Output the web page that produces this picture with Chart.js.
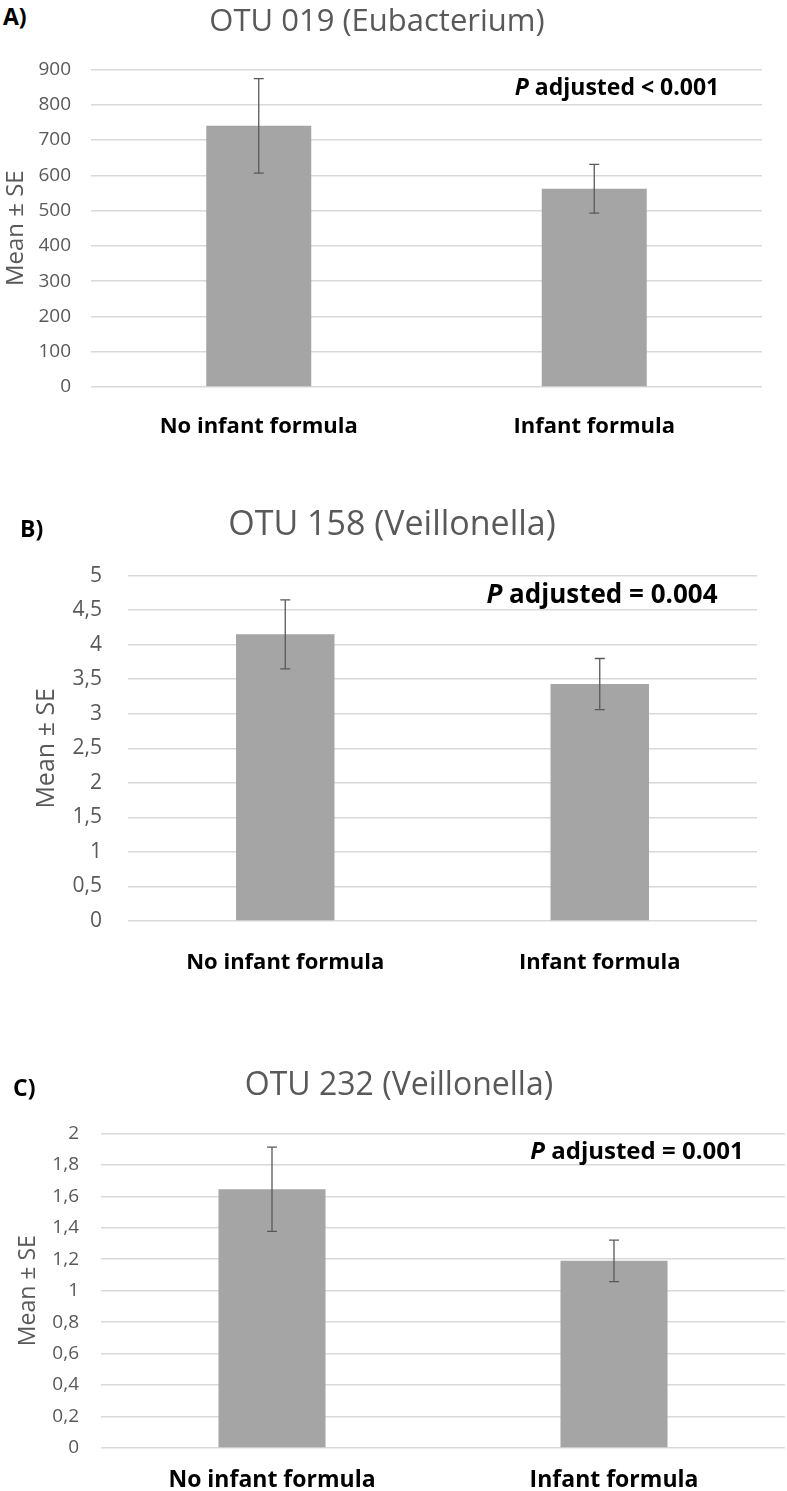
<!DOCTYPE html>
<html>
<head>
<meta charset="utf-8">
<script src="https://cdn.jsdelivr.net/npm/chart.js@4.4.1/dist/chart.umd.min.js"></script>
<style>
  body { margin: 0; background: #fff; }
  #page { position: relative; width: 787px; height: 1491px; overflow: hidden; font-family: "Open Sans", sans-serif; }
  canvas { position: absolute; left: 0; z-index: 0; }
  .t { position: absolute; white-space: nowrap; transform: translate(-50%, -50%); line-height: 1; z-index: 1; }
  .title { color: #595959; }
  .letter { font-weight: 700; color: #000; transform: translate(0, -50%); }
  .pval { font-weight: 700; color: #000; }
</style>
</head>
<body>
<div id="page">
  <div class="t letter" style="left:3px; top:16px; font-size:23px;">A)</div>
  <div class="t title" style="left:377px; top:19px; font-size:31px;">OTU 019 (Eubacterium)</div>
  <div class="t pval" style="left:617px; top:86px; font-size:23px;"><i>P</i> adjusted &lt; 0.001</div>
  <canvas id="chartA" width="787" height="398"></canvas>

  <div class="t letter" style="left:20px; top:528px; font-size:23px;">B)</div>
  <div class="t title" style="left:392px; top:522px; font-size:34px;">OTU 158 (Veillonella)</div>
  <div class="t pval" style="left:602px; top:593px; font-size:26px;"><i>P</i> adjusted = 0.004</div>
  <canvas id="chartB" width="787" height="425"></canvas>

  <div class="t letter" style="left:13px; top:1087px; font-size:23px;">C)</div>
  <div class="t title" style="left:399px; top:1083px; font-size:32px;">OTU 232 (Veillonella)</div>
  <div class="t pval" style="left:637px; top:1150px; font-size:24px;"><i>P</i> adjusted = 0.001</div>
  <canvas id="chartC" width="787" height="380"></canvas>
</div>
<script>
const categories = ["No infant formula", "Infant formula"];

// A) OTU 019 (Eubacterium)
const meanA = [740, 562];
const seA = [134, 69];
const maxA = 900, stepA = 100;

// B) OTU 158 (Veillonella)
const meanB = [4.15, 3.43];
const seB = [0.5, 0.37];
const maxB = 5, stepB = 0.5;

// C) OTU 232 (Veillonella)
const meanC = [1.645, 1.19];
const seC = [0.268, 0.132];
const maxC = 2, stepC = 0.2;

const barColor = "#a5a5a5";
const gridColor = "#d9d9d9";
const textGray = "#595959";

// draws the +/- SE whiskers from the y scale
const errorBars = {
  id: "errorBars",
  afterDatasetsDraw(chart) {
    const ctx = chart.ctx;
    const y = chart.scales.y;
    const ds = chart.data.datasets[0];
    const meta = chart.getDatasetMeta(0);
    ctx.save();
    ctx.strokeStyle = textGray;
    ctx.lineWidth = 1.3;
    meta.data.forEach((bar, i) => {
      const top = y.getPixelForValue(ds.data[i] + ds.se[i]);
      const bot = y.getPixelForValue(ds.data[i] - ds.se[i]);
      ctx.beginPath();
      ctx.moveTo(bar.x, top);
      ctx.lineTo(bar.x, bot);
      ctx.moveTo(bar.x - 5, top);
      ctx.lineTo(bar.x + 5, top);
      ctx.moveTo(bar.x - 5, bot);
      ctx.lineTo(bar.x + 5, bot);
      ctx.stroke();
    });
    ctx.restore();
  }
};

function comma(v) {
  return String(Math.round(v * 10) / 10).replace(".", ",");
}

function panelConfig(means, errs, max, step, p) {
  return {
    type: "bar",
    data: {
      labels: categories,
      datasets: [{
        data: means,
        se: errs,
        backgroundColor: barColor,
        barPercentage: 0.313,
        categoryPercentage: 1
      }]
    },
    options: {
      responsive: false,
      devicePixelRatio: 1,
      animation: false,
      layout: { padding: { top: 0, right: p.right, left: 0, bottom: 0 } },
      plugins: { legend: { display: false }, tooltip: { enabled: false } },
      scales: {
        x: {
          grid: { display: false, drawTicks: false },
          border: { display: false },
          ticks: {
            color: "#000",
            padding: p.xPad,
            font: { family: "Open Sans", size: p.xFont, weight: "bold" }
          },
          afterFit: s => { s.height = p.xHeight; }
        },
        y: {
          min: 0,
          max: max,
          border: { display: false },
          grid: { color: gridColor, lineWidth: 1.5, drawTicks: false },
          ticks: {
            stepSize: step,
            color: textGray,
            padding: p.yPad,
            font: { family: "Open Sans", size: p.yFont },
            callback: v => comma(v)
          },
          title: {
            display: true,
            text: "Mean ± SE",
            color: textGray,
            padding: { top: p.titlePad, bottom: 0 },
            font: { family: "Open Sans", size: p.titleFont }
          },
          afterFit: s => { s.width = p.left; }
        }
      }
    },
    plugins: [errorBars]
  };
}

// p.top / p.bottom: page y of the max and zero grid lines
function makePanel(id, means, errs, max, step, p) {
  const canvas = document.getElementById(id);
  const probe = new Chart(canvas, panelConfig(means, errs, max, step, p));
  const offset = probe.chartArea.top;
  probe.destroy();
  canvas.width = 787;
  canvas.height = Math.round(offset + p.bottom - p.top + p.xHeight);
  canvas.style.top = (p.top - offset) + "px";
  return new Chart(canvas, panelConfig(means, errs, max, step, p));
}

makePanel("chartA", meanA, seA, maxA, stepA,
  { top: 69, bottom: 387, left: 91, right: 25, xHeight: 60, xPad: 27, xFont: 22,
    yPad: 20, yFont: 19, titlePad: 2, titleFont: 24 });
makePanel("chartB", meanB, seB, maxB, stepB,
  { top: 576, bottom: 921, left: 128, right: 30, xHeight: 60, xPad: 29, xFont: 22,
    yPad: 26, yFont: 21, titlePad: 32, titleFont: 25 });
makePanel("chartC", meanC, seC, maxC, stepC,
  { top: 1133, bottom: 1448, left: 101, right: 2, xHeight: 45, xPad: 19, xFont: 23,
    yPad: 22, yFont: 19, titlePad: 15, titleFont: 23 });
</script>
</body>
</html>
